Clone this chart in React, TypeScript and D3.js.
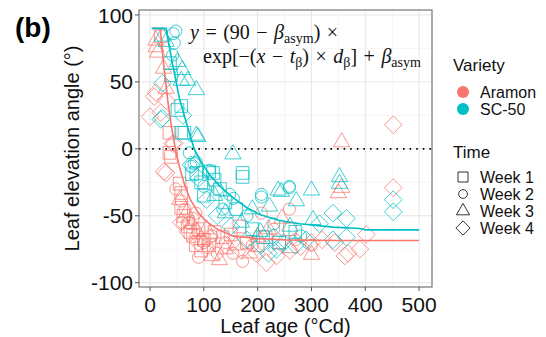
import React from 'react';
import * as d3 from 'd3';

// leaf age (°Cd), leaf elevation angle (°)
const aramonWeek1 = [[20, 84], [36, 12], [36, -3], [39, -6], [55, -26], [58, -33], [58, -44], [62, -50], [70, -58], [75, -62], [80, -65], [85, -72], [90, -60], [95, -76], [100, -68], [110, -72], [120, -62], [135, -66], [150, -64], [166, -58], [180, -70], [200, -72], [215, -66], [240, -70], [260, -60]];
const aramonWeek2 = [[48, -30], [58, -39], [60, -55], [65, -45], [72, -55], [80, -52], [85, -48], [90, -81], [100, -70], [108, -74], [115, -65], [125, -78], [140, -70], [154, -78], [172, -84], [190, -72], [207, -48], [230, -60], [259, -45], [270, -68], [300, -72]];
const aramonWeek3 = [[11, 81], [11, 76], [14, 72], [25, 60], [30, 45], [55, -38], [68, -48], [78, -56], [88, -62], [95, -68], [105, -60], [115, -80], [129, -83], [140, -75], [160, -72], [185, -78], [200, -66], [220, -60], [245, -52], [260, -74], [300, -79], [356, 5], [356, -29], [350, -33]];
const aramonWeek4 = [[0, 24], [8, 39], [11, 42], [20, 27], [30, 36], [26, -17], [30, -18], [42, 4], [45, 4], [58, -55], [70, -62], [90, -70], [110, -66], [140, -72], [170, -76], [197, -78], [216, -85], [235, -80], [260, -76], [280, -73], [300, -70], [320, -68], [343, -70], [362, -80], [368, -78], [390, -75], [402, -64], [452, 18], [452, -29]];

const sc50Week1 = [[37, 64], [39, 55], [51, 29], [58, 32], [58, 12], [64, 12], [78, -19], [86, -18], [95, -25], [100, -35], [110, -17], [117, -18], [120, -23], [130, -30], [140, -40], [160, -45], [172, -18], [172, -21], [190, -60], [210, -66], [240, -70], [270, -62]];
const sc50Week2 = [[43, 86], [45, 79], [48, 88], [42, 70], [73, -3], [76, -13], [82, -11], [86, -10], [100, -28], [110, -16], [125, -30], [135, -45], [148, -34], [155, -37], [180, -50], [207, -34], [207, -36], [230, -56], [259, -28], [259, -29], [280, -65]];
const sc50Week3 = [[23, 84], [30, 80], [51, 65], [60, 59], [58, 51], [70, 51], [86, 44], [89, 9], [86, 10], [120, -35], [140, -48], [154, -4], [170, -55], [190, -45], [205, -62], [222, -43], [238, -31], [244, -32], [260, -58], [272, -39], [300, -31], [303, -53], [352, -21], [352, -26]];
const sc50Week4 = [[23, 49], [20, 22], [23, 23], [61, 25], [76, -12], [90, -22], [105, -38], [125, -50], [150, -58], [180, -68], [206, -72], [220, -78], [230, -66], [235, -75], [248, -70], [270, -72], [290, -68], [315, -56], [340, -48], [365, -52], [340, -68], [365, -66], [452, -38], [452, -47]];

// fitted curves
const aramonFit = [[5, 90], [19, 90], [25, 64], [33, 36], [40, 16], [48, -2], [55, -14], [65, -28], [75, -38], [90, -48], [104, -54], [125, -60], [153, -65], [200, -67], [250, -68], [350, -68.5], [500, -68.5]];
const sc50Fit = [[3, 90], [30, 90], [40, 67], [55, 37], [70, 16], [82, 0], [95, -10], [110, -19], [130, -28], [153, -36], [180, -44], [204, -49], [240, -53.5], [278, -56], [340, -58.5], [390, -59.5], [400, -60.5], [500, -60.5]];

const xTicks = [0, 100, 200, 300, 400, 500];
const xMinor = [50, 150, 250, 350, 450];
const yTicks = [-100, -50, 0, 50, 100];
const yMinor = [-75, -25, 25, 75];
const varieties = ['Aramon', 'SC-50'];
const weeks = ['Week 1', 'Week 2', 'Week 3', 'Week 4'];

const RED = '#F8766D';
const TEAL = '#00BFC4';

const left = 139, right = 432, top = 10, bottom = 287;

const x = d3.scaleLinear().domain([-20.5, 524]).range([left, right]);
const y = d3.scaleLinear().domain([-103.2, 103.7]).range([bottom, top]);

const shapes = [
  d3.symbol().type(d3.symbolSquare).size(160),
  d3.symbol().type(d3.symbolCircle).size(115),
  d3.symbol().type(d3.symbolTriangle).size(115),
  d3.symbol().type(d3.symbolDiamond2).size(200),
];
const legendShapes = [
  d3.symbol().type(d3.symbolSquare).size(100),
  d3.symbol().type(d3.symbolCircle).size(60),
  d3.symbol().type(d3.symbolTriangle).size(75),
  d3.symbol().type(d3.symbolDiamond2).size(130),
];

const groups = [
  { color: RED, weeks: [aramonWeek1, aramonWeek2, aramonWeek3, aramonWeek4] },
  { color: TEAL, weeks: [sc50Week1, sc50Week2, sc50Week3, sc50Week4] },
];

const line = d3.line<number[]>().x(d => x(d[0])).y(d => y(d[1]));

export default function App() {
  const sans = 'Liberation Sans, Arial, sans-serif';
  const serif = 'Liberation Serif, Times New Roman, serif';
  return (
    <svg width={546} height={337} style={{ position: 'absolute', left: 0, top: 0, background: '#fff' }}>
      <rect x={0} y={0} width={546} height={337} fill="#fff" />
      {/* grid */}
      {xMinor.map(t => <line key={'xm' + t} x1={x(t)} x2={x(t)} y1={top} y2={bottom} stroke="#F3F3F3" strokeWidth={0.8} />)}
      {yMinor.map(t => <line key={'ym' + t} x1={left} x2={right} y1={y(t)} y2={y(t)} stroke="#F3F3F3" strokeWidth={0.8} />)}
      {xTicks.map(t => <line key={'xg' + t} x1={x(t)} x2={x(t)} y1={top} y2={bottom} stroke="#E6E6E6" strokeWidth={1} />)}
      {yTicks.map(t => <line key={'yg' + t} x1={left} x2={right} y1={y(t)} y2={y(t)} stroke="#E6E6E6" strokeWidth={1} />)}

      {/* points */}
      {groups.map((g, gi) => g.weeks.map((pts, wi) => pts.map((p, i) => (
        <path key={`${gi}-${wi}-${i}`} d={shapes[wi]() as string} transform={`translate(${x(p[0])},${y(p[1])})`}
          fill="none" stroke={g.color} strokeOpacity={0.75} strokeWidth={1} />
      ))))}

      {/* zero line */}
      <line x1={left} x2={right} y1={y(0)} y2={y(0)} stroke="#000" strokeWidth={1.6} strokeDasharray="1.6 5" />

      {/* fits */}
      <path d={line(aramonFit) as string} fill="none" stroke={RED} strokeWidth={1.6} />
      <path d={line(sc50Fit) as string} fill="none" stroke={TEAL} strokeWidth={1.6} />

      {/* panel border */}
      <rect x={left} y={top} width={right - left} height={bottom - top} fill="none" stroke="#808080" strokeWidth={1.3} />

      {/* axes */}
      {yTicks.map(t => (
        <g key={'yt' + t}>
          <line x1={left - 4} x2={left} y1={y(t)} y2={y(t)} stroke="#555" strokeWidth={1} />
          <text x={left - 6} y={y(t)} dy="0.36em" textAnchor="end" fontFamily={sans} fontSize={21} fill="#111">{t}</text>
        </g>
      ))}
      {xTicks.map(t => (
        <g key={'xt' + t}>
          <line x1={x(t)} x2={x(t)} y1={bottom} y2={bottom + 4} stroke="#555" strokeWidth={1} />
          <text x={x(t)} y={312} textAnchor="middle" fontFamily={sans} fontSize={21} fill="#111">{t}</text>
        </g>
      ))}
      <text x={(left + right) / 2} y={333} textAnchor="middle" fontFamily={sans} fontSize={20} fill="#111">Leaf age (°Cd)</text>
      <text transform={`translate(79,${(top + bottom) / 2}) rotate(-90)`} textAnchor="middle" fontFamily={sans} fontSize={20} fill="#111">Leaf elevation angle (°)</text>

      <text x={15} y={37} fontFamily={sans} fontSize={28} fontWeight="bold" fill="#000">(b)</text>

      {/* equation */}
      <text x={190} y={39} fontFamily={serif} fontSize={20} wordSpacing={1.5} fill="#111">
        <tspan fontStyle="italic">y</tspan>
        <tspan> = (90 − </tspan>
        <tspan fontStyle="italic">β</tspan>
        <tspan fontSize={14} dy={4}>asym</tspan>
        <tspan dy={-4}>) ×</tspan>
      </text>
      <text x={203} y={63} fontFamily={serif} fontSize={20} wordSpacing={1.5} fill="#111">
        <tspan>exp[−(</tspan>
        <tspan fontStyle="italic">x</tspan>
        <tspan> − </tspan>
        <tspan fontStyle="italic">t</tspan>
        <tspan fontSize={14} dy={4}>β</tspan>
        <tspan dy={-4}>) × </tspan>
        <tspan fontStyle="italic">d</tspan>
        <tspan fontSize={14} dy={4}>β</tspan>
        <tspan dy={-4}>] + </tspan>
        <tspan fontStyle="italic">β</tspan>
        <tspan fontSize={14} dy={4}>asym</tspan>
      </text>

      {/* legend */}
      <text x={453} y={71} fontFamily={sans} fontSize={17} fill="#111">Variety</text>
      {varieties.map((v, i) => (
        <g key={v}>
          <circle cx={463} cy={92 + i * 17} r={6} fill={i === 0 ? RED : TEAL} />
          <text x={480} y={92 + i * 17} dy="0.36em" fontFamily={sans} fontSize={16} fill="#111">{v}</text>
        </g>
      ))}
      <text x={453} y={158} fontFamily={sans} fontSize={17} fill="#111">Time</text>
      {weeks.map((w, i) => (
        <g key={w}>
          <path d={legendShapes[i]() as string} transform={`translate(463,${177 + i * 17})`} fill="none" stroke="#333" strokeWidth={1} />
          <text x={480} y={177 + i * 17} dy="0.36em" fontFamily={sans} fontSize={16} fill="#111">{w}</text>
        </g>
      ))}
    </svg>
  );
}
